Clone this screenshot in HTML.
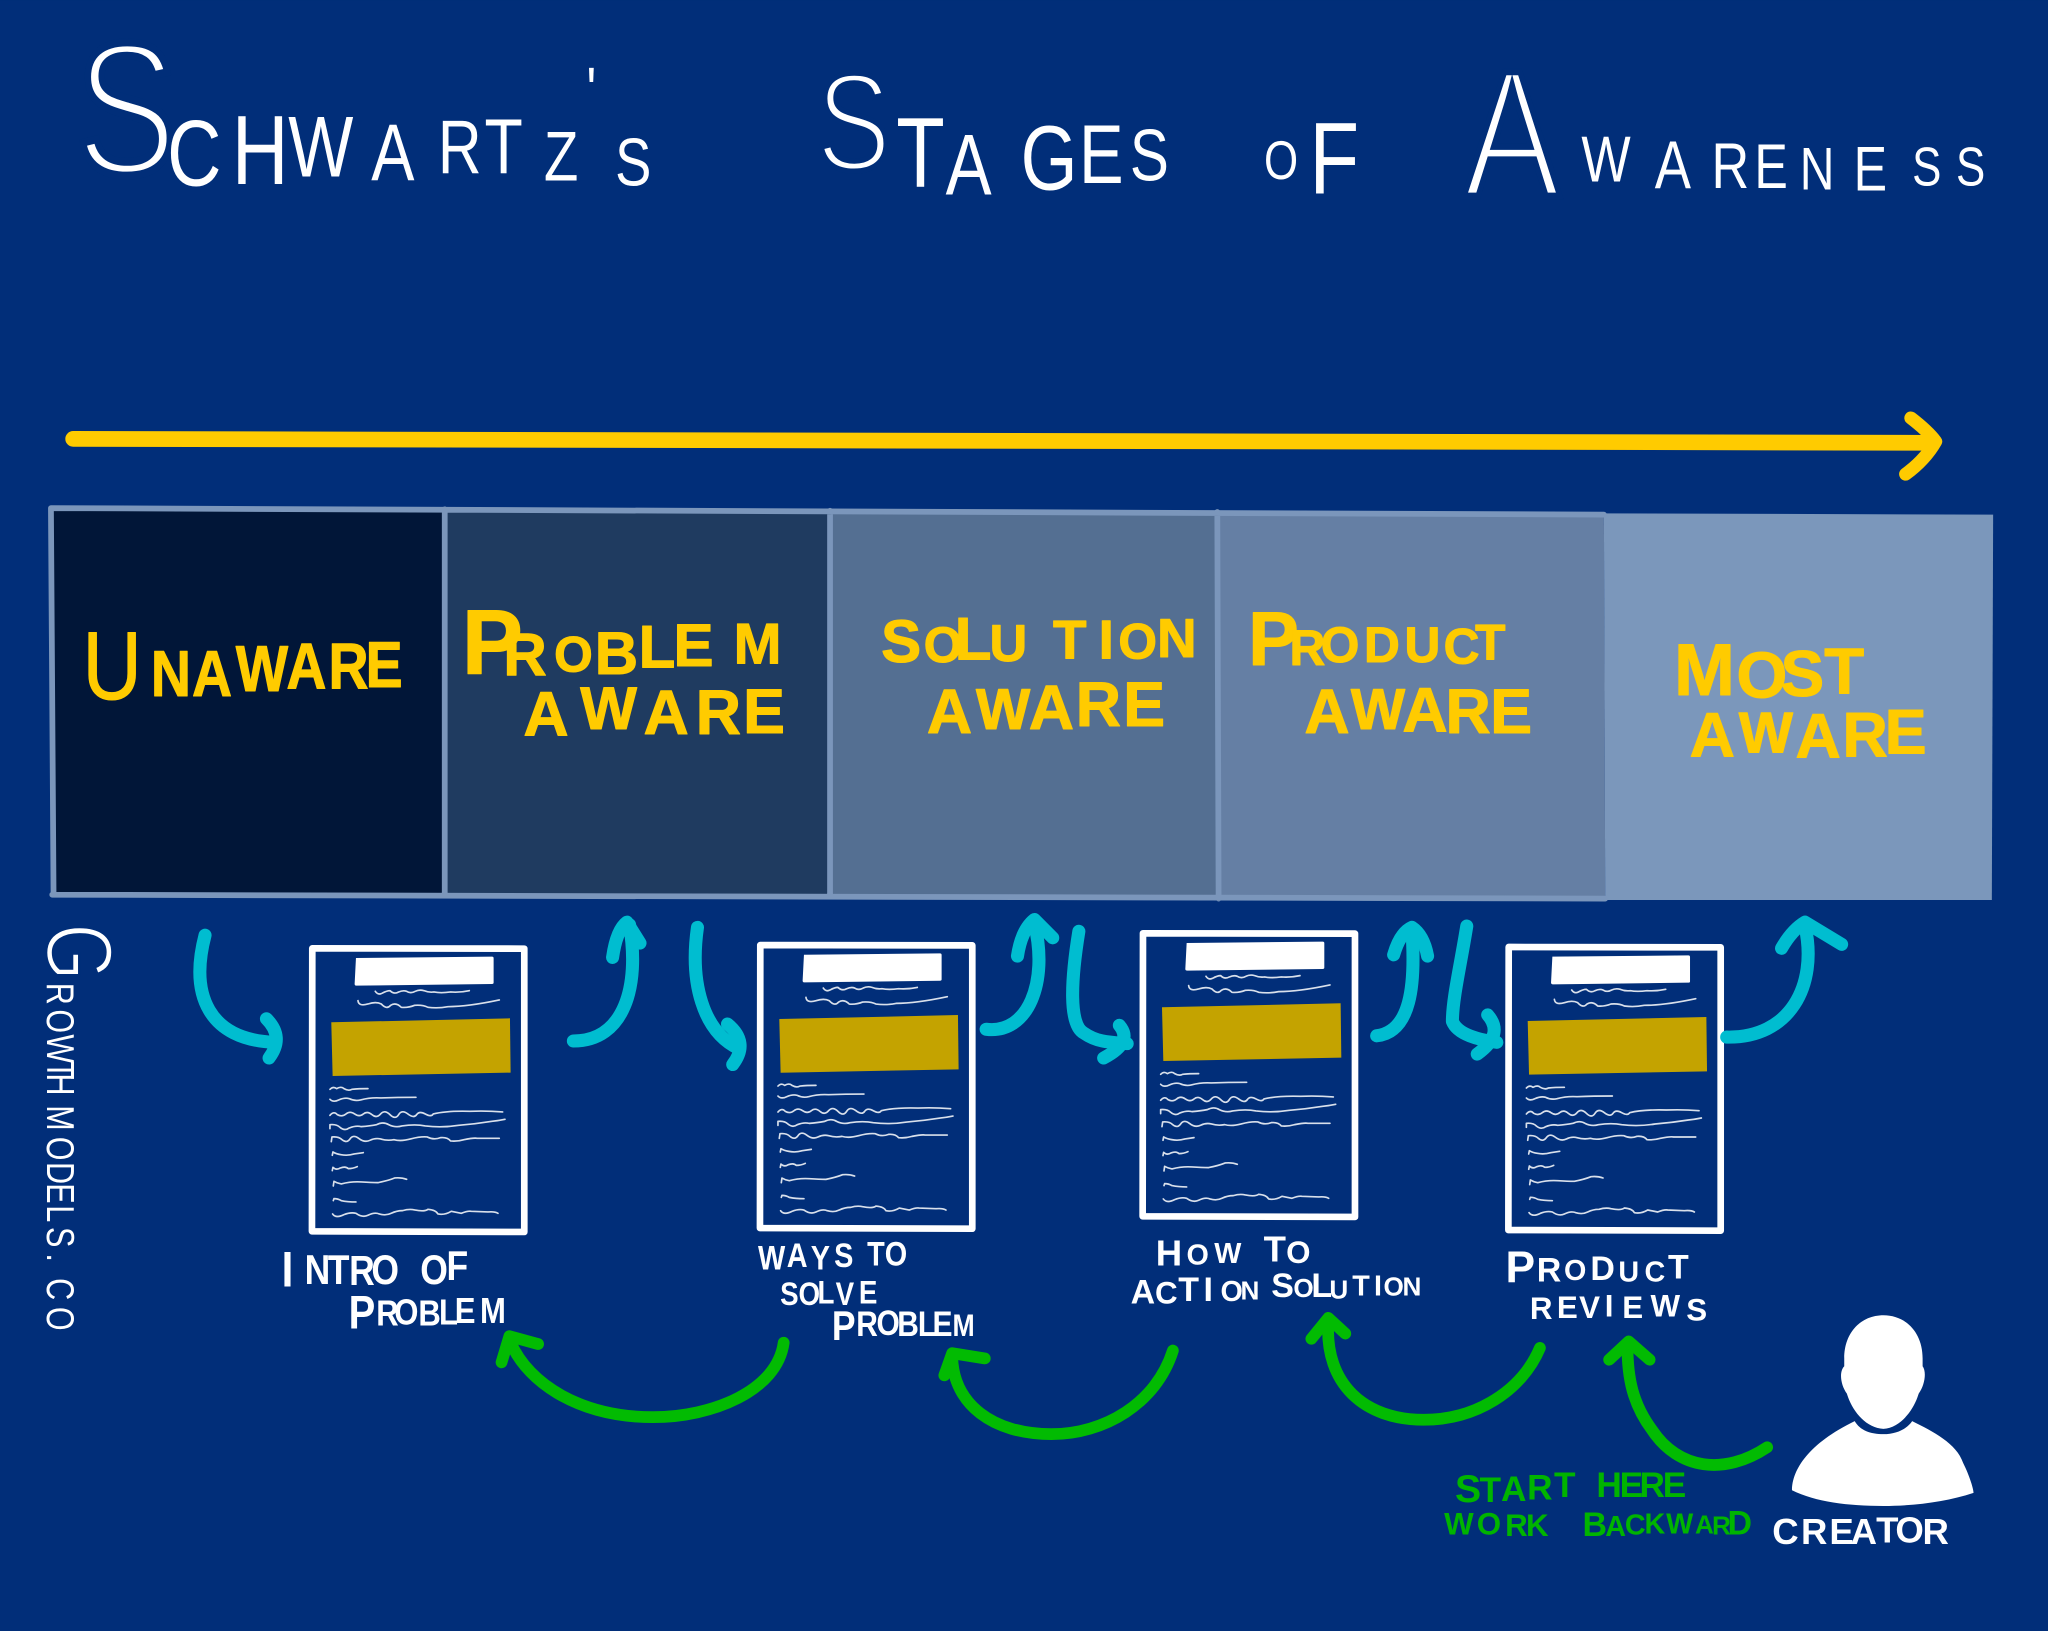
<!DOCTYPE html>
<html lang="en">
<head>
<meta charset="utf-8">
<title>Schwartz's Stages of Awareness</title>
<style>
html,body{margin:0;padding:0;width:2048px;height:1631px;overflow:hidden;background:#012e79}
svg{display:block}
text{font-family:"Liberation Sans",sans-serif;text-anchor:middle}
.t{fill:#fff;paint-order:fill stroke}
.y{fill:#ffcb00;font-weight:bold;stroke:#ffcb00;stroke-width:.8;stroke-linejoin:round}
.w{fill:#fff;font-weight:bold}
.g{fill:#00b400;font-weight:bold}
.c{fill:none;stroke:#00bdd0;stroke-width:10;stroke-linecap:round;stroke-linejoin:round}
.n{fill:none;stroke:#02bb02;stroke-width:9;stroke-linecap:round;stroke-linejoin:round}
.s{fill:none;stroke:#fff;stroke-width:5;stroke-opacity:.85;stroke-linecap:round;stroke-linejoin:round}
</style>
</head>
<body>
<svg xmlns="http://www.w3.org/2000/svg" width="2048" height="1631" viewBox="0 0 1568 1248.7">
<rect width="1568" height="1249" fill="#012e79"/>

<!-- Title -->
<g transform="scale(.8,1)">
<text class="t" font-size="60"><tspan x="121" y="133" font-size="144" stroke="#012e79" stroke-width="6">S</tspan></text>
<text class="t" font-size="60"><tspan x="186" y="142" font-size="72">C</tspan><tspan x="249" y="141" font-size="75">H</tspan><tspan x="307" y="135" font-size="66">W</tspan><tspan x="376" y="138" font-size="62">A</tspan><tspan x="440" y="133" font-size="58">R</tspan><tspan x="482" y="133" font-size="60">T</tspan><tspan x="537" y="138" font-size="54">Z</tspan><tspan x="566" y="86" font-size="50">'</tspan><tspan x="606" y="142" font-size="52">S</tspan></text>
<text class="t" font-size="60"><tspan x="817" y="130" font-size="106" stroke="#012e79" stroke-width="4">S</tspan></text>
<text class="t" font-size="60"><tspan x="881" y="143" font-size="76">T</tspan><tspan x="927" y="149" font-size="66">A</tspan><tspan x="1004" y="145" font-size="70">G</tspan><tspan x="1054" y="140" font-size="64">E</tspan><tspan x="1100" y="138" font-size="56">S</tspan></text>
<text class="t" font-size="60"><tspan x="1226" y="137" font-size="42">O</tspan><tspan x="1277" y="148" font-size="78">F</tspan></text>
<text class="t" font-size="60"><tspan x="1447" y="150" font-size="138" stroke="#012e79" stroke-width="5">A</tspan></text>
<text class="t" font-size="60"><tspan x="1537" y="139" font-size="50">W</tspan><tspan x="1601" y="144" font-size="52">A</tspan><tspan x="1656" y="144" font-size="50">R</tspan><tspan x="1695" y="144" font-size="48">E</tspan><tspan x="1739" y="145" font-size="46">N</tspan><tspan x="1790" y="146" font-size="48">E</tspan><tspan x="1844" y="142" font-size="42">S</tspan><tspan x="1886" y="142" font-size="42">S</tspan></text>
</g>

<!-- Yellow arrow -->
<path d="M56,336 L1478,339" fill="none" stroke="#ffcb00" stroke-width="12" stroke-linecap="round"/>
<path d="M1463,320 Q1476,330 1482,338 Q1474,352 1459,363" fill="none" stroke="#ffcb00" stroke-width="10" stroke-linecap="round" stroke-linejoin="round"/>

<!-- Stage cells -->
<polygon points="38,388 341,391 341,685 40,685" fill="#011638"/>
<polygon points="341,391 636,392 636,686 341,685" fill="#1f3b60"/>
<polygon points="636,392 932,393 932,687 636,686" fill="#546f92"/>
<polygon points="932,393 1228,394 1229,688 932,687" fill="#657fa4"/>
<polygon points="1228,393 1526,394 1525,689 1229,689" fill="#7b97bb"/>
<path d="M39,389 L1228,394 M39,389 L41,685 M40,685 L1229,688 M340.500,390 L340.500,685 M635.500,391 L635.500,686 M932,392 L933,688" fill="none" stroke="#7b96bb" stroke-width="4.400" stroke-linecap="round"/>

<!-- Stage labels -->
<g transform="scale(.85,1)">
<text class="y" font-size="50"><tspan x="101" y="535" font-size="74" font-weight="normal">U</tspan><tspan x="154" y="533">N</tspan><tspan x="191" y="533">A</tspan><tspan x="236" y="529">W</tspan><tspan x="276" y="527">A</tspan><tspan x="314" y="527">R</tspan><tspan x="346" y="526">E</tspan></text>
</g>
<text class="y" font-size="46"><tspan x="377" y="516" font-size="70">P</tspan><tspan x="402" y="517">R</tspan><tspan x="439" y="514" font-size="38">O</tspan><tspan x="472" y="516">B</tspan><tspan x="503" y="511">L</tspan><tspan x="531" y="510">E</tspan><tspan x="580" y="508" font-size="44">M</tspan></text>
<text class="y" font-size="48"><tspan x="418" y="563">A</tspan><tspan x="466" y="558" font-size="46">W</tspan><tspan x="510" y="562">A</tspan><tspan x="550" y="562">R</tspan><tspan x="585" y="561">E</tspan></text>
<text class="y" font-size="46"><tspan x="690" y="507">S</tspan><tspan x="722" y="507" font-size="38">O</tspan><tspan x="745" y="505">L</tspan><tspan x="772" y="506" font-size="40">U</tspan><tspan x="819" y="504" font-size="42">T</tspan><tspan x="847" y="504" font-size="42">I</tspan><tspan x="871" y="504" font-size="38">O</tspan><tspan x="901" y="503" font-size="42">N</tspan></text>
<text class="y" font-size="48"><tspan x="727" y="561">A</tspan><tspan x="768" y="558" font-size="44">W</tspan><tspan x="805" y="558">A</tspan><tspan x="841" y="556">R</tspan><tspan x="876" y="556">E</tspan></text>
<text class="y" font-size="38"><tspan x="975" y="509" font-size="58">P</tspan><tspan x="1001" y="509">R</tspan><tspan x="1026" y="507">O</tspan><tspan x="1058" y="507">D</tspan><tspan x="1089" y="507">U</tspan><tspan x="1119" y="508">C</tspan><tspan x="1141" y="505">T</tspan></text>
<text class="y" font-size="48"><tspan x="1016" y="561">A</tspan><tspan x="1055" y="558" font-size="44">W</tspan><tspan x="1091" y="560">A</tspan><tspan x="1124" y="561">R</tspan><tspan x="1157" y="561">E</tspan></text>
<text class="y" font-size="50"><tspan x="1305" y="532" font-size="56">M</tspan><tspan x="1349" y="534">O</tspan><tspan x="1380" y="533">S</tspan><tspan x="1412" y="531">T</tspan></text>
<text class="y" font-size="48"><tspan x="1311" y="579">A</tspan><tspan x="1352" y="576" font-size="44">W</tspan><tspan x="1392" y="580">A</tspan><tspan x="1428" y="579">R</tspan><tspan x="1459" y="577">E</tspan></text>

<!-- Document template (drawn at 3x crop coordinates) -->
<defs>
<g id="doc">
<path d="M67,55 L703,56 L703,906 L66,904 Z" fill="#012e79" stroke="#fff" stroke-width="20" stroke-linejoin="round"/>
<path d="M198,84 L606,80 Q611,80 611,85 L611,158 Q611,162 606,162 L200,167 Q194,167 194,162 Z" fill="#fff"/>
<polygon points="124,277 660,265 662,428 128,438" fill="#c4a300"/>
<path class="s" d="M256,184 q8,12 20,6 q14,-8 24,-8 q12,12 26,4 q14,-6 24,-2 q12,8 26,0 q12,-6 26,-2 q14,6 30,4 q20,4 50,0 q28,2 56,-4"/>
<path class="s" d="M204,212 q2,18 30,10 q24,-8 40,0 q16,18 28,4 q16,-10 32,6 q20,2 40,-6 q24,-2 40,6 q30,4 60,-2 q60,0 154,-20"/>
<path class="s" d="M120,478 q10,-10 20,-2 q14,-8 22,0 q14,8 24,2 q20,-2 48,-2"/>
<path class="s" d="M120,508 q10,10 26,2 q18,-8 32,-4 q16,8 34,4 q30,-8 60,-6 q50,-2 106,-2"/>
<path class="s" d="M120,556 q12,-14 22,-2 q14,8 26,-2 t26,0 t26,0 t26,2 t26,-2 t28,2 t26,0 t28,-2 t26,2 t26,-2 t24,0 q40,-10 110,-8 q50,-2 98,2"/>
<path class="s" d="M120,596 l0,-12 q20,-2 30,8 q14,12 28,2 q20,-8 36,-4 q26,-2 46,-6 q20,-10 36,0 q20,10 40,4 q40,-6 70,0 q50,6 100,-2 q50,-4 100,-12 q20,-2 39,-6"/>
<path class="s" d="M124,635 l2,-14 q20,-2 30,8 q14,12 24,-2 t26,-2 q18,14 34,6 t32,-4 q20,6 40,2 q20,6 50,-2 t50,-6 q20,10 40,2 q20,-2 30,10 q20,2 40,-4 q30,-6 40,-4 l66,0"/>
<path class="s" d="M127,676 l2,-10 q10,6 24,8 q20,4 40,-2 l27,-4"/>
<path class="s" d="M127,722 l2,-10 q10,10 22,2 q16,-6 24,2 q14,0 27,-6"/>
<path class="s" d="M130,768 l2,-14 q10,6 22,8 q30,-8 60,-6 q30,2 50,2 q30,-6 50,-14 q20,-2 36,4"/>
<path class="s" d="M130,812 l2,-6 q12,0 22,6 q20,4 44,4"/>
<path class="s" d="M128,852 q10,14 34,2 q20,-8 36,-4 q20,14 36,6 q20,-10 34,-4 q20,6 36,-2 t34,-8 q20,-6 36,-2 q30,6 40,-2 q24,2 30,14 q20,4 40,-8 q20,4 30,6 q20,-8 30,-6 l50,2 q20,-2 30,4"/>
</g>
</defs>
<use href="#doc" transform="translate(222,712) scale(.2552)"/>
<use href="#doc" transform="translate(565,709.500) scale(.2552)"/>
<use href="#doc" transform="translate(858,700.500) scale(.2552)"/>
<use href="#doc" transform="translate(1138,711) scale(.2552)"/>

<!-- Cyan arrows -->
<path class="c" d="M157,716 C145,762 160,796 210,798"/>
<path class="c" d="M204,780 Q218,794 206,810"/>
<path class="c" d="M439,797 C478,797 490,755 482,708"/>
<path class="c" d="M469,733 Q472,712 480,706 L490,722"/>
<path class="c" d="M534,710 C528,752 538,790 566,803"/>
<path class="c" d="M557,784 Q574,798 561,815"/>
<path class="c" d="M755,788 C787,792 803,752 792,707"/>
<path class="c" d="M779,732 Q782,712 792,704 L806,718"/>
<path class="c" d="M826,713 C820,750 818,785 830,791 C840,798 850,798 863,799"/>
<path class="c" d="M857,785 Q868,798 845,810"/>
<path class="c" d="M1054,793 C1080,790 1084,755 1081,712"/>
<path class="c" d="M1067,731 Q1072,714 1081,710 Q1090,716 1093,732"/>
<path class="c" d="M1123,709 C1118,740 1112,765 1112,782 C1116,792 1132,796 1146,798"/>
<path class="c" d="M1139,777 Q1152,792 1131,807"/>
<path class="c" d="M1322,794 C1370,795 1392,755 1382,709"/>
<path class="c" d="M1364,726 Q1372,712 1382,706 L1410,723"/>

<!-- Green arrows -->
<path class="n" d="M600,1028 C595,1065 545,1085 500,1085 C445,1085 405,1060 391,1028"/>
<path class="n" d="M384,1043 L390,1023 L412,1029"/>
<path class="n" d="M898,1034 C885,1075 845,1098 805,1098 C760,1098 730,1075 729,1039"/>
<path class="n" d="M723,1053 L729,1036 L754,1040"/>
<path class="n" d="M1179,1032 C1165,1065 1130,1087 1090,1087 C1045,1087 1014,1060 1017,1012"/>
<path class="n" d="M1004,1025 L1017,1009 L1030,1021"/>
<path class="n" d="M1353,1108 C1320,1130 1285,1125 1265,1095 C1250,1075 1246,1055 1246,1030"/>
<path class="n" d="M1232,1041 L1247,1027 L1263,1041"/>

<!-- Document labels -->
<g transform="scale(.85,1)">
<text class="w" font-size="32"><tspan x="259" y="985" font-size="38">I</tspan><tspan x="286" y="983">N</tspan><tspan x="305" y="983">T</tspan><tspan x="326" y="984">R</tspan><tspan x="347" y="983">O</tspan><tspan x="391" y="983">O</tspan><tspan x="412" y="980">F</tspan></text>
<text class="w" font-size="28"><tspan x="326" y="1017" font-size="36">P</tspan><tspan x="349" y="1015">R</tspan><tspan x="366" y="1014">O</tspan><tspan x="387" y="1015">B</tspan><tspan x="404" y="1014">L</tspan><tspan x="419" y="1013">E</tspan><tspan x="444" y="1013">M</tspan></text>
<text class="w" font-size="26"><tspan x="695" y="972">W</tspan><tspan x="718" y="970">A</tspan><tspan x="739" y="972">Y</tspan><tspan x="760" y="970">S</tspan><tspan x="789" y="969">T</tspan><tspan x="807" y="969">O</tspan></text>
<text class="w" font-size="25"><tspan x="711" y="999">S</tspan><tspan x="729" y="999">O</tspan><tspan x="744" y="998">L</tspan><tspan x="761" y="999">V</tspan><tspan x="782" y="998">E</tspan></text>
<text class="w" font-size="27"><tspan x="760" y="1026" font-size="32">P</tspan><tspan x="781" y="1023">R</tspan><tspan x="800" y="1022">O</tspan><tspan x="818" y="1023">B</tspan><tspan x="835" y="1023">L</tspan><tspan x="849" y="1023">E</tspan><tspan x="868" y="1023" font-size="24">M</tspan></text>
</g>
<text class="w" font-size="28"><tspan x="895" y="969">H</tspan><tspan x="917" y="968" font-size="22">O</tspan><tspan x="940" y="967" font-size="22">W</tspan><tspan x="976" y="966">T</tspan><tspan x="994" y="967" font-size="24">O</tspan></text>
<text class="w" font-size="26"><tspan x="875" y="998">A</tspan><tspan x="893" y="998" font-size="24">C</tspan><tspan x="910" y="996">T</tspan><tspan x="925" y="996">I</tspan><tspan x="943" y="996" font-size="22">O</tspan><tspan x="957" y="995" font-size="20">N</tspan><tspan x="982" y="993">S</tspan><tspan x="998" y="993" font-size="20">O</tspan><tspan x="1012" y="993">L</tspan><tspan x="1025" y="994" font-size="20">U</tspan><tspan x="1042" y="992" font-size="22">T</tspan><tspan x="1055" y="992" font-size="22">I</tspan><tspan x="1067" y="992" font-size="20">O</tspan><tspan x="1081" y="992" font-size="20">N</tspan></text>
<text class="w" font-size="26"><tspan x="1164" y="982" font-size="34">P</tspan><tspan x="1186" y="981">R</tspan><tspan x="1206" y="980" font-size="22">O</tspan><tspan x="1227" y="980">D</tspan><tspan x="1247" y="981" font-size="22">U</tspan><tspan x="1267" y="981" font-size="22">C</tspan><tspan x="1285" y="979">T</tspan></text>
<text class="w" font-size="24"><tspan x="1180" y="1010">R</tspan><tspan x="1200" y="1009">E</tspan><tspan x="1217" y="1009">V</tspan><tspan x="1232" y="1008">I</tspan><tspan x="1250" y="1009">E</tspan><tspan x="1275" y="1008">W</tspan><tspan x="1299" y="1011">S</tspan></text>
<text class="w" font-size="28"><tspan x="1367" y="1182">C</tspan><tspan x="1389" y="1182">R</tspan><tspan x="1410" y="1182">E</tspan><tspan x="1427" y="1182">A</tspan><tspan x="1445" y="1181">T</tspan><tspan x="1462" y="1181">O</tspan><tspan x="1482" y="1182">R</tspan></text>

<!-- Green note -->
<text class="g" font-size="27"><tspan x="1124" y="1150" font-size="30">S</tspan><tspan x="1141" y="1150">T</tspan><tspan x="1159" y="1149">A</tspan><tspan x="1179" y="1148">R</tspan><tspan x="1198" y="1146">T</tspan></text>
<text class="g" font-size="27"><tspan x="1232" y="1146">H</tspan><tspan x="1249" y="1146">E</tspan><tspan x="1265" y="1146">R</tspan><tspan x="1282" y="1146">E</tspan></text>
<text class="g" font-size="24"><tspan x="1117" y="1175">W</tspan><tspan x="1140" y="1175">O</tspan><tspan x="1161" y="1176">R</tspan><tspan x="1177" y="1176">K</tspan></text>
<text class="g" font-size="26"><tspan x="1221" y="1176">B</tspan><tspan x="1237" y="1176" font-size="22">A</tspan><tspan x="1252" y="1175" font-size="22">C</tspan><tspan x="1267" y="1174" font-size="22">K</tspan><tspan x="1286" y="1174" font-size="22">W</tspan><tspan x="1305" y="1174" font-size="20">A</tspan><tspan x="1318" y="1175" font-size="20">R</tspan><tspan x="1332" y="1175">D</tspan></text>

<!-- Creator -->
<path fill="#fff" d="M1412,1040 C1412,1020 1425,1007 1442,1007 C1459,1007 1472,1020 1472,1040 L1472,1046 C1475,1050 1474,1060 1469,1067 C1465,1080 1455,1093 1442,1094 C1428,1093 1418,1080 1414,1067 C1409,1060 1408,1050 1412,1046 Z"/>
<path fill="#fff" d="M1420,1088 C1424,1095 1432,1098 1442,1098 C1452,1098 1460,1094 1464,1088 C1480,1096 1498,1105 1503,1120 C1508,1130 1511,1140 1511,1143 C1490,1150 1465,1153 1442,1153 C1415,1153 1390,1150 1372,1141 C1372,1125 1385,1105 1420,1088 Z"/>

<!-- Vertical credit -->
<g transform="translate(36,707) rotate(90) scale(.78,1)">
<text class="t" font-size="30"><tspan x="28" y="0" font-size="72" stroke="#012e79" stroke-width="2">G</tspan><tspan x="69" y="0">R</tspan><tspan x="96" y="0">O</tspan><tspan x="123" y="0">W</tspan><tspan x="144" y="0">T</tspan><tspan x="158" y="0">H</tspan><tspan x="191" y="0">M</tspan><tspan x="221" y="0">O</tspan><tspan x="245" y="0">D</tspan><tspan x="265" y="0">E</tspan><tspan x="285" y="0">L</tspan><tspan x="308" y="0">S</tspan><tspan x="328" y="0">.</tspan><tspan x="359" y="0">C</tspan><tspan x="388" y="0">O</tspan></text>
</g>
</svg>
</body>
</html>
